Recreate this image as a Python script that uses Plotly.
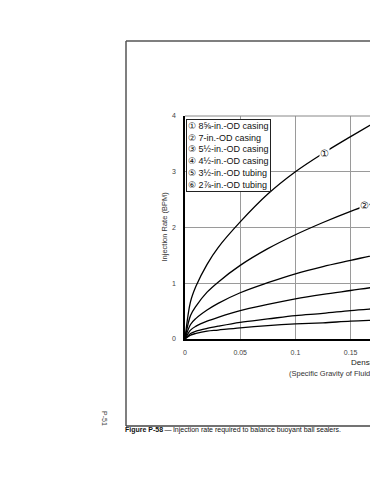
import plotly.graph_objects as go

# Density difference (specific gravity of fluid minus ball sealer)
density = [0, 0.005, 0.01, 0.02, 0.03, 0.05, 0.075, 0.1, 0.125, 0.15, 0.175, 0.2]

# Injection rate (BPM)
rate_1 = [0, 0.67, 0.95, 1.34, 1.64, 2.10, 2.60, 3.00, 3.33, 3.63, 3.92, 4.20]
rate_2 = [0, 0.42, 0.59, 0.84, 1.02, 1.32, 1.62, 1.87, 2.09, 2.29, 2.47, 2.64]
rate_3 = [0, 0.26, 0.37, 0.52, 0.64, 0.83, 1.01, 1.17, 1.30, 1.41, 1.52, 1.62]
rate_4 = [0, 0.16, 0.23, 0.32, 0.39, 0.51, 0.62, 0.72, 0.80, 0.87, 0.94, 1.00]
rate_5 = [0, 0.10, 0.14, 0.19, 0.23, 0.30, 0.36, 0.42, 0.46, 0.51, 0.55, 0.59]
rate_6 = [0, 0.07, 0.10, 0.14, 0.16, 0.20, 0.24, 0.27, 0.29, 0.32, 0.34, 0.36]

series = [rate_1, rate_2, rate_3, rate_4, rate_5, rate_6]

legend_lines = [
    "① 8⅝-in.-OD casing",
    "② 7-in.-OD casing",
    "③ 5½-in.-OD casing",
    "④ 4½-in.-OD casing",
    "⑤ 3½-in.-OD tubing",
    "⑥ 2⅞-in.-OD tubing",
]

x_ticks = [0, 0.05, 0.1, 0.15]
x_tick_labels = ["0", "0.05", "0.1", "0.15"]
y_ticks = [0, 1, 2, 3, 4]

# curve labels: (label, x, y)
curve_labels = [("①", 0.1262, 3.33), ("②", 0.1630, 2.39)]

FONT = "Liberation Sans, Arial, sans-serif"

fig = go.Figure()
for s in series:
    fig.add_trace(go.Scatter(x=density, y=s, mode="lines", line=dict(color="black", width=1.3, shape="spline"),
                             showlegend=False, hoverinfo="skip"))

W, H = 370, 480
L, T, B = 185, 116, 339


def px(xp):
    return (xp - L) / (W - L)


def py(yp):
    return (B - yp) / (B - T)


fig.update_layout(
    width=W, height=H,
    margin=dict(l=L, r=0, t=T, b=H - B, pad=0),
    paper_bgcolor="white", plot_bgcolor="white",
    font=dict(family=FONT, color="#222"),
    xaxis=dict(range=[0, 0.05 * (W - L) / 55.2], tickvals=x_ticks, ticktext=x_tick_labels,
               showgrid=True, gridcolor="#9a9a9a", gridwidth=1, zeroline=False,
               showline=True, linecolor="black", linewidth=1.5, ticks="",
               tickfont=dict(size=7, color="#444"), ticklabelstandoff=6),
    yaxis=dict(range=[0, 4], tickvals=y_ticks, showgrid=True, gridcolor="#9a9a9a", gridwidth=1,
               zeroline=False, showline=True, linecolor="black", linewidth=1.5, ticks="",
               tickfont=dict(size=7, color="#444"), ticklabelstandoff=6),
)

# top border of plot area
fig.add_shape(type="line", xref="paper", yref="paper", x0=0, x1=1.05, y0=1, y1=1,
              line=dict(color="#888", width=1))

# outer frame
fx0, fy0, fy1 = px(126), py(426), py(41)
fig.add_shape(type="line", xref="paper", yref="paper", x0=fx0, x1=fx0, y0=fy0, y1=fy1,
              line=dict(color="#555", width=1.5))
fig.add_shape(type="line", xref="paper", yref="paper", x0=fx0, x1=1.1, y0=fy1, y1=fy1,
              line=dict(color="#555", width=1.5))
fig.add_shape(type="line", xref="paper", yref="paper", x0=fx0, x1=1.1, y0=fy0, y1=fy0,
              line=dict(color="#444", width=1.5))

# legend box
fig.add_annotation(xref="paper", yref="paper", x=px(186), y=py(119), xanchor="left", yanchor="top",
                   text="<br>".join(legend_lines), align="left", showarrow=False,
                   font=dict(size=9, color="#111", family=FONT),
                   bordercolor="#222", borderwidth=1, borderpad=1, bgcolor="white")

for lab, cx, cy in curve_labels:
    fig.add_annotation(x=cx, y=cy, text=lab, showarrow=False, bgcolor="white",
                       font=dict(size=10, color="#111", family=FONT), borderpad=0)

# axis titles
fig.add_annotation(xref="paper", yref="paper", x=px(157), y=py(227), text="Injection Rate (BPM)",
                   textangle=-90, showarrow=False, font=dict(size=7.5, color="#333", family=FONT))
fig.add_annotation(xref="paper", yref="paper", x=px(349), y=py(369), xanchor="left",
                   text="Density Difference", showarrow=False,
                   font=dict(size=8, color="#222", family=FONT))
fig.add_annotation(xref="paper", yref="paper", x=px(287), y=py(380), xanchor="left",
                   text="(Specific Gravity of Fluid Minus Specific Gravity of Ball Sealer)", showarrow=False,
                   font=dict(size=7.5, color="#333", family=FONT))

# caption
fig.add_annotation(xref="paper", yref="paper", x=px(123), y=py(436), xanchor="left",
                   text="<b>Figure P-58</b>\u2009—\u2009Injection rate required to balance buoyant ball sealers.",
                   showarrow=False, font=dict(size=7, color="#111", family=FONT))

# page number
fig.add_annotation(xref="paper", yref="paper", x=px(99), y=py(428), text="P-51", textangle=90,
                   showarrow=False, font=dict(size=7, color="#444", family=FONT))

fig.write_html("out.html", config={"displayModeBar": False},
               post_script="document.body.style.margin='0';document.body.style.overflow='hidden';")
